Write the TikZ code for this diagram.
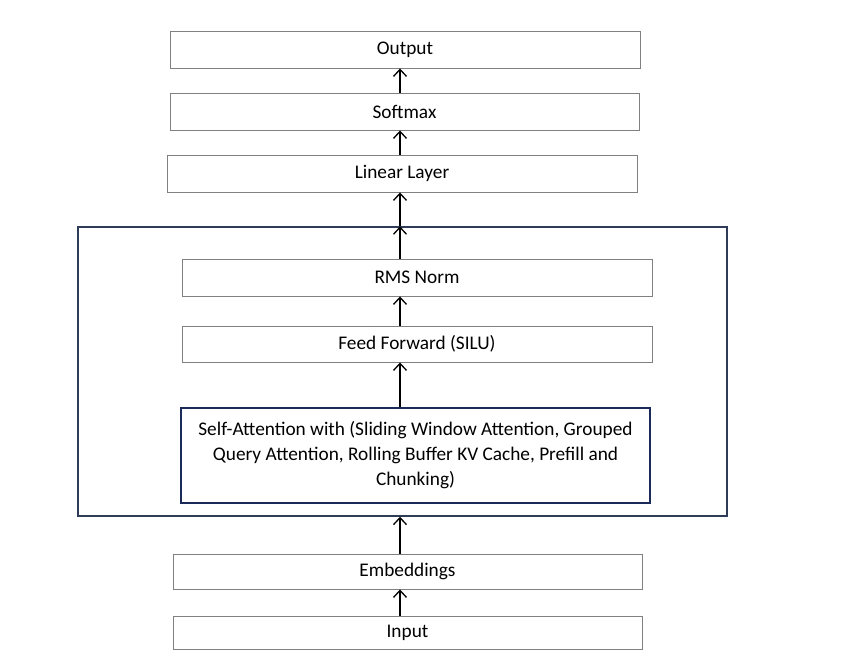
\documentclass[tikz,border=0pt]{standalone}
\usepackage{fontspec}
\setmainfont{Carlito}
\usepackage{tikz}
\usetikzlibrary{arrows.meta}
\definecolor{boxgray}{RGB}{128,128,128}
\definecolor{framenavy}{RGB}{47,60,88}
\definecolor{attnnavy}{RGB}{28,42,90}
\tikzset{%
    layer/.style={draw=boxgray, line width=0.9pt, minimum width=470pt,
        minimum height=37pt, inner sep=0pt, align=center,
        font=\fontsize{19.3}{25}\selectfont},
    up/.style={-{Straight Barb[length=7pt,width=13pt]}, line width=1.3pt}
}

\begin{document}
\begin{tikzpicture}[x=1pt,y=-1pt]
\useasboundingbox (0,0) rectangle (854,665);

% decoder block frame
\node[draw=framenavy, line width=1.4pt, minimum width=649pt, minimum height=289pt,
    inner sep=0pt] (block) at (402.5,371.5) {};

\node[layer] (out) at (405,49.5) {Output};
\node[layer, minimum width=469pt] (sm) at (404.5,111.5) {Softmax};
\node[layer] (lin) at (402,173.5) {Linear Layer};

\node[layer] (rms) at (417,277.5) {RMS Norm};
\node[layer, minimum height=36pt] (ff) at (417,344) {Feed Forward (SILU)};
\node[layer, draw=attnnavy, line width=2.6pt, minimum width=469pt, minimum height=95pt]
    (attn) at (415.5,455.5) {Self-Attention with (Sliding Window Attention, Grouped\\
    Query Attention, Rolling Buffer KV Cache, Prefill and\\ Chunking)};

\node[layer, minimum width=469pt, minimum height=35pt] (emb) at (407.5,571.5) {Embeddings};
\node[layer, minimum width=469pt, minimum height=33pt] (in) at (407.5,632.5) {Input};

\coordinate (ax) at (400,0);

\draw[up] (in.north -| ax) -- (emb.south -| ax);
\draw[up] (emb.north -| ax) -- (block.south -| ax);
\draw[up] (attn.north -| ax) -- (ff.south -| ax);
\draw[up] (ff.north -| ax) -- (rms.south -| ax);
\draw[up] (rms.north -| ax) -- (block.north -| ax);
\draw[up] (block.north -| ax) -- (lin.south -| ax);
\draw[up] (lin.north -| ax) -- (sm.south -| ax);
\draw[up] (sm.north -| ax) -- (out.south -| ax);
\end{tikzpicture}
\end{document}
